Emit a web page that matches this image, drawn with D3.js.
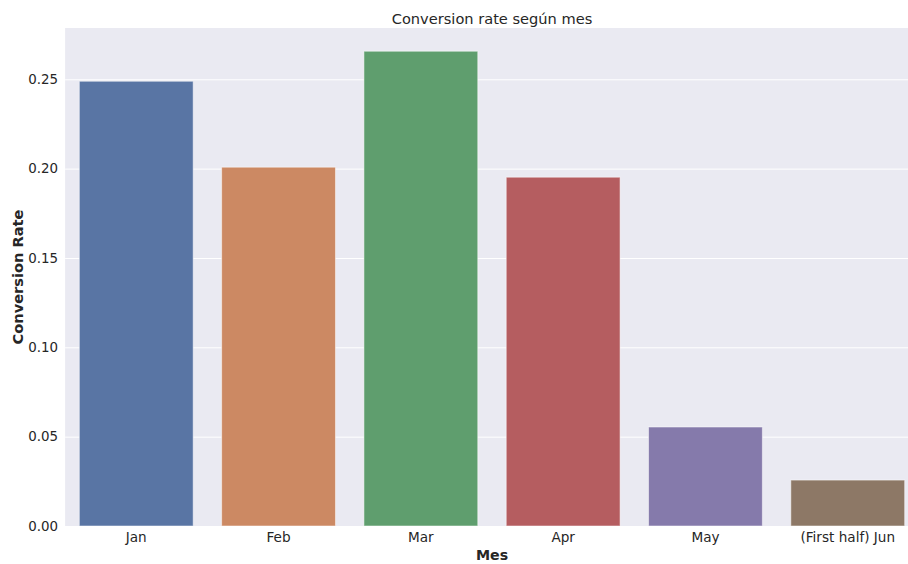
<!DOCTYPE html>
<html><head><meta charset="utf-8">
<script src="https://cdn.jsdelivr.net/npm/d3@7"></script>
<style>body{margin:0;background:#fff}svg{display:block}text{font-family:"DejaVu Sans",sans-serif;fill:#262626}</style>
</head><body>
<script>
const categories = ["Jan","Feb","Mar","Apr","May","(First half) Jun"];
const values = [0.2489, 0.2008, 0.2657, 0.1952, 0.0554, 0.0257];
const colors = ["#5975a4","#cc8963","#5f9e6e","#b55d60","#857aab","#8d7866"];
const yTicks = [0, 0.05, 0.10, 0.15, 0.20, 0.25];

const W = 908, H = 564;
const m = {left: 65.1, right: 918.9, top: 28, bottom: 526};
const svg = d3.select("body").append("svg").attr("width", W).attr("height", H);

const x = d3.scaleBand().domain(categories).range([m.left, m.right]).paddingInner(0.2).paddingOuter(0.1);
const y = d3.scaleLinear().domain([0, 0.2787]).range([m.bottom, m.top]);

svg.append("rect").attr("x", m.left).attr("y", m.top).attr("width", m.right - m.left).attr("height", m.bottom - m.top).attr("fill", "#eaeaf2");

const grid = svg.append("g").attr("transform", `translate(${m.left},0)`)
  .call(d3.axisLeft(y).tickValues(yTicks).tickSize(-(m.right - m.left)).tickFormat(""));
grid.select(".domain").remove();
grid.selectAll("line").attr("stroke", "#fff").attr("stroke-width", 1);

svg.append("g").selectAll("rect").data(values).join("rect")
  .attr("x", (d, i) => x(categories[i]))
  .attr("width", x.bandwidth())
  .attr("y", d => y(d))
  .attr("height", d => y(0) - y(d))
  .attr("fill", (d, i) => colors[i])
  .attr("stroke", "rgba(255,255,255,0.5)")
  .attr("stroke-width", 1);

const yAxis = svg.append("g").attr("transform", `translate(${m.left},0)`)
  .call(d3.axisLeft(y).tickValues(yTicks).tickSize(0).tickPadding(7).tickFormat(d3.format(".2f")));
yAxis.select(".domain").remove();
yAxis.selectAll("text").attr("font-size", 13.4).style("font-family", '"DejaVu Sans",sans-serif').attr("fill", "#262626");

const xAxis = svg.append("g").attr("transform", `translate(0,${m.bottom})`)
  .call(d3.axisBottom(x).tickSize(0).tickPadding(6));
xAxis.select(".domain").remove();
xAxis.selectAll("text").attr("font-size", 13.6).style("font-family", '"DejaVu Sans",sans-serif').attr("fill", "#262626");

const cx = (m.left + m.right) / 2;
svg.append("text").attr("x", cx).attr("y", 24).attr("text-anchor", "middle").attr("font-size", 14.6).text("Conversion rate según mes");
svg.append("text").attr("x", cx).attr("y", 559.5).attr("text-anchor", "middle").attr("font-size", 14.2).attr("font-weight", "bold").text("Mes");
svg.append("text").attr("transform", `translate(22.5,${(m.top + m.bottom) / 2}) rotate(-90)`).attr("text-anchor", "middle").attr("font-size", 14.6).attr("font-weight", "bold").text("Conversion Rate");
</script>
</body></html>
